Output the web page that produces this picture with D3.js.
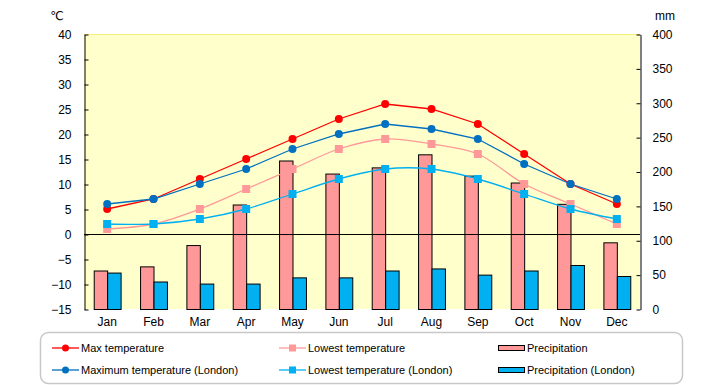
<!DOCTYPE html>
<html>
<head>
<meta charset="utf-8">
<script src="https://cdn.jsdelivr.net/npm/d3@7"></script>
<style>
  body { margin: 0; background: #fff; }
  text { font-family: "Liberation Sans", "DejaVu Sans", "Noto Sans CJK JP", sans-serif; }
</style>
</head>
<body>
<script>
// Dados do gráfico
const months = ["Jan", "Feb", "Mar", "Apr", "May", "Jun", "Jul", "Aug", "Sep", "Oct", "Nov", "Dec"];
const maxTemp = [5, 7, 11, 15, 19, 23, 26, 25, 22, 16, 10, 6];
const minTemp = [1, 2, 5, 9, 13, 17, 19, 18, 16, 10, 6, 2];
const maxTempLondon = [6, 7, 10, 13, 17, 20, 22, 21, 19, 14, 10, 7];
const minTempLondon = [2, 2, 3, 5, 8, 11, 13, 13, 11, 8, 5, 3];
const precip = [56, 62, 93, 152, 216, 197, 206, 225, 194, 184, 153, 97];
const precipLondon = [53, 40, 37, 37, 46, 46, 56, 59, 50, 56, 64, 48];
const tempTicks = [-15, -10, -5, 0, 5, 10, 15, 20, 25, 30, 35, 40];
const precipTicks = [0, 50, 100, 150, 200, 250, 300, 350, 400];
const seriesNames = ["Max temperature", "Lowest temperature", "Precipitation",
  "Maximum temperature (London)", "Lowest temperature (London)", "Precipitation (London)"];

const width = 720, height = 385;
const plot = {left: 84, right: 640, top: 34, bottom: 309};

const svg = d3.select("body").append("svg")
  .attr("width", width)
  .attr("height", height);

// Escalas
const x = d3.scaleBand().domain(months).range([plot.left, plot.right]);
const yT = d3.scaleLinear().domain([-15, 40]).range([plot.bottom, plot.top]);
const yP = d3.scaleLinear().domain([0, 400]).range([plot.bottom, plot.top]);
const barW = x.bandwidth() * 0.29;

// Fundo amarelo
svg.append("rect")
  .attr("x", plot.left).attr("y", plot.top)
  .attr("width", plot.right - plot.left).attr("height", plot.bottom - plot.top)
  .attr("fill", "#FFFFCC");
svg.append("line")
  .attr("x1", plot.left).attr("x2", plot.right)
  .attr("y1", plot.top + 0.5).attr("y2", plot.top + 0.5)
  .attr("stroke", "#F6F07A");

// Barras de precipitação
const bars = svg.append("g");
bars.selectAll("rect.p")
  .data(precip)
  .join("rect")
  .attr("x", (d, i) => x(months[i]) + x.bandwidth() / 2 - barW + 0.5)
  .attr("y", d => yP(d) + 0.5)
  .attr("width", barW)
  .attr("height", d => plot.bottom - yP(d))
  .attr("fill", "#FF9999")
  .attr("stroke", "#000")
  .attr("stroke-width", 1);
bars.selectAll("rect.pl")
  .data(precipLondon)
  .join("rect")
  .attr("x", (d, i) => x(months[i]) + x.bandwidth() / 2 + 0.5)
  .attr("y", d => yP(d) + 0.5)
  .attr("width", barW)
  .attr("height", d => plot.bottom - yP(d))
  .attr("fill", "#00B0F0")
  .attr("stroke", "#000")
  .attr("stroke-width", 1);

// Linha do zero
svg.append("line")
  .attr("x1", plot.left).attr("x2", plot.right)
  .attr("y1", Math.round(yT(0)) + 0.5).attr("y2", Math.round(yT(0)) + 0.5)
  .attr("stroke", "#000");

// Eixos
const yAxisL = svg.append("g")
  .attr("transform", `translate(${plot.left + 0.5},0.5)`)
  .call(d3.axisLeft(yT).tickValues(tempTicks).tickSizeInner(-4).tickSizeOuter(0).tickPadding(13));
const yAxisR = svg.append("g")
  .attr("transform", `translate(${plot.right + 0.5},0.5)`)
  .call(d3.axisRight(yP).tickValues(precipTicks).tickSizeInner(-4).tickSizeOuter(0).tickPadding(12));
const xAxis = svg.append("g")
  .attr("transform", `translate(0,${plot.bottom})`)
  .call(d3.axisBottom(x).tickSize(0).tickPadding(8));
xAxis.select(".domain").remove();
[yAxisL, yAxisR, xAxis].forEach(g => g.selectAll("text").attr("font-size", 12).attr("fill", "#000")
  .style("font-family", "'Liberation Sans', 'DejaVu Sans', sans-serif"));

// Unidades
svg.append("text").attr("x", 57).attr("y", 20).attr("text-anchor", "middle")
  .attr("font-size", 12).text("℃");
svg.append("text").attr("x", 665).attr("y", 20).attr("text-anchor", "middle")
  .attr("font-size", 12).text("mm");

// Linhas de temperatura
const cx = (d, i) => x(months[i]) + x.bandwidth() / 2;
const lineStraight = d3.line().x(cx).y(d => yT(d));
const lineSmooth = d3.line().x(cx).y(d => yT(d)).curve(d3.curveCatmullRom.alpha(0.5));

const series = [
  {values: minTemp, color: "#FF9999", line: lineSmooth, shape: "square"},
  {values: minTempLondon, color: "#00B0F0", line: lineSmooth, shape: "square"},
  {values: maxTemp, color: "#FF0000", line: lineStraight, shape: "circle"},
  {values: maxTempLondon, color: "#0070C0", line: lineStraight, shape: "circle"}
];

series.forEach(s => {
  svg.append("path")
    .attr("d", s.line(s.values))
    .attr("fill", "none")
    .attr("stroke", s.color)
    .attr("stroke-width", 1.3);
  const g = svg.append("g");
  if (s.shape === "circle") {
    g.selectAll("circle").data(s.values).join("circle")
      .attr("cx", cx).attr("cy", d => yT(d)).attr("r", 4)
      .attr("fill", s.color);
  } else {
    g.selectAll("rect").data(s.values).join("rect")
      .attr("x", (d, i) => cx(d, i) - 4).attr("y", d => yT(d) - 4)
      .attr("width", 8).attr("height", 8)
      .attr("fill", s.color);
  }
});

// Legenda
svg.append("rect")
  .attr("x", 40.5).attr("y", 332.5)
  .attr("width", 642).attr("height", 51)
  .attr("rx", 8)
  .attr("fill", "#fff")
  .attr("stroke", "#C8C8C8")
  .attr("stroke-width", 1.5);

const legendItems = [
  {name: seriesNames[0], color: "#FF0000", type: "circle"},
  {name: seriesNames[1], color: "#FF9999", type: "square"},
  {name: seriesNames[2], color: "#FF9999", type: "bar"},
  {name: seriesNames[3], color: "#0070C0", type: "circle"},
  {name: seriesNames[4], color: "#00B0F0", type: "square"},
  {name: seriesNames[5], color: "#00B0F0", type: "bar"}
];
const colX = [52, 279, 498];
const rowY = [348, 370];

legendItems.forEach((item, i) => {
  const lx = colX[i % 3], ly = rowY[Math.floor(i / 3)];
  const g = svg.append("g").attr("transform", `translate(${lx},${ly})`);
  if (item.type === "bar") {
    g.append("rect").attr("x", 0.5).attr("y", -2.5).attr("width", 26).attr("height", 5)
      .attr("fill", item.color).attr("stroke", "#000");
  } else {
    g.append("line").attr("x1", 0).attr("x2", 27).attr("y1", 0).attr("y2", 0)
      .attr("stroke", item.color).attr("stroke-width", 1.3);
    if (item.type === "circle") {
      g.append("circle").attr("cx", 13.5).attr("cy", 0).attr("r", 3.5).attr("fill", item.color);
    } else {
      g.append("rect").attr("x", 10).attr("y", -3.5).attr("width", 7).attr("height", 7).attr("fill", item.color);
    }
  }
  g.append("text").attr("x", 29).attr("y", 4).attr("font-size", 11).text(item.name);
});
</script>
</body>
</html>
